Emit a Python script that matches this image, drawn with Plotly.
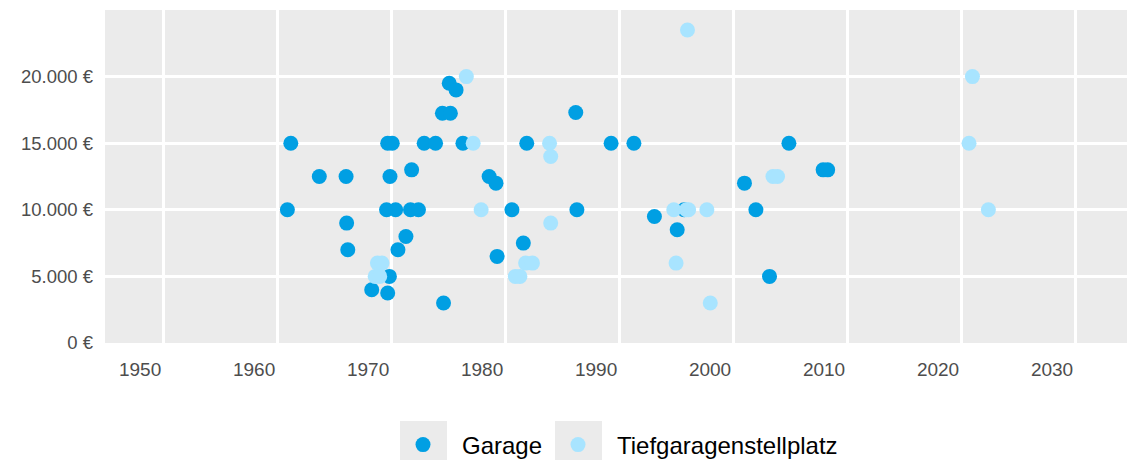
import plotly.graph_objects as go

# ---- data ----
garage_year = [1960.9, 1961.2, 1963.7, 1966.05, 1966.1, 1966.2, 1968.3, 1969.7, 1969.85,
               1969.7, 1970.1, 1969.9, 1971.8, 1972.9, 1973.9, 1969.6, 1970.4, 1971.7,
               1972.4, 1971.3, 1970.6, 1974.6, 1975.1, 1975.7, 1974.5, 1975.2, 1976.3,
               1978.6, 1979.2, 1979.3, 1980.6, 1981.6, 1981.9, 1986.2, 1986.3, 1989.3,
               1991.3, 1993.1, 1995.1, 1995.7, 2001.0, 2002.0, 2003.2, 2004.9, 2007.9,
               2008.3]
garage_price = [10000, 15000, 12500, 12500, 9000, 7000, 4000, 3750, 5000,
                15000, 15000, 12500, 13000, 15000, 15000, 10000, 10000, 10000,
                10000, 8000, 7000, 3000, 19500, 19000, 17250, 17250, 15000,
                12500, 12000, 6500, 10000, 7500, 15000, 17300, 10000, 15000,
                15000, 9500, 8500, 10000, 12000, 10000, 5000, 15000, 13000,
                13000]

tg_year = [1968.8, 1969.2, 1968.6, 1969.0, 1976.6, 1977.2, 1977.9, 1983.9, 1984.0,
           1984.0, 1981.8, 1982.4, 1980.9, 1981.3, 1994.8, 1995.9, 1996.1, 1997.7,
           1995.0, 1998.0, 1996.0, 2003.5, 2003.9, 2020.7, 2021.0, 2022.4]
tg_price = [6000, 6000, 5000, 5000, 20000, 15000, 10000, 15000, 14000,
            9000, 6000, 6000, 5000, 5000, 10000, 10000, 10000, 10000,
            6000, 3000, 23500, 12500, 12500, 15000, 20000, 10000]

series_names = ["Garage", "Tiefgaragenstellplatz"]
series_colors = ["#009FE3", "#A8E4FF"]

x_ticks = [1950, 1960, 1970, 1980, 1990, 2000, 2010, 2020, 2030]
y_ticks = [0, 5000, 10000, 15000, 20000]
y_ticktext = ["0 €", "5.000 €", "10.000 €", "15.000 €", "20.000 €"]

# ---- figure ----
W, H = 1127, 461
ML, MR, MT, MB = 105, 0, 10, 118
PW, PH = W - ML - MR, H - MT - MB


def px_x(p):
    return (p - ML) / PW


def px_y(p):
    return (H - MB - p) / PH


FONT = "Liberation Sans, Arial, sans-serif"

fig = go.Figure()
legend_ids = ["legend", "legend2"]
for name, xs, ys, col, lg in [(series_names[0], garage_year, garage_price, series_colors[0], legend_ids[0]),
                              (series_names[1], tg_year, tg_price, series_colors[1], legend_ids[1])]:
    fig.add_trace(go.Scatter(x=xs, y=ys, mode="markers", name=name, legend=lg,
                             marker=dict(size=15, color=col, line=dict(width=0))))

# legend key backgrounds (ggplot style)
shapes = []
for x0, x1 in [(400, 447), (555, 602)]:
    shapes.append(dict(type="rect", xref="paper", yref="paper",
                       x0=px_x(x0), x1=px_x(x1), y0=px_y(460), y1=px_y(421),
                       fillcolor="#EBEBEB", line=dict(width=0), layer="below"))


def legend_at(start_px):
    return dict(orientation="h", xref="container", x=start_px / W, xanchor="left",
                yref="container", y=(H - 445) / H, yanchor="middle",
                bgcolor="rgba(0,0,0,0)", itemwidth=68,
                font=dict(size=24, color="black", family=FONT))


fig.update_layout(
    width=W, height=H,
    margin=dict(l=ML, r=MR, t=MT, b=MB, pad=0, autoexpand=False),
    paper_bgcolor="white",
    plot_bgcolor="#EBEBEB",
    font=dict(family=FONT, color="#4D4D4D"),
    shapes=shapes,
    showlegend=True,
    legend=legend_at(384),
    legend2=legend_at(539),
    xaxis=dict(range=[1944.9, 2034.56], tickvals=x_ticks,
               ticktext=[str(v) for v in x_ticks],
               showgrid=True, gridcolor="white", gridwidth=2.5,
               zeroline=False, showline=False, ticks="",
               tickfont=dict(size=19, color="#4D4D4D", family=FONT),
               ticklabelshift=-23, ticklabelstandoff=13),
    yaxis=dict(range=[0, 25000], tickvals=y_ticks, ticktext=y_ticktext,
               showgrid=True, gridcolor="white", gridwidth=2.5,
               zeroline=False, showline=False, ticks="",
               tickfont=dict(size=18.5, color="#4D4D4D", family=FONT),
               ticklabelstandoff=11),
)

fig.write_html("out.html", config={"displayModeBar": False},
               post_script="document.body.style.margin='0';")
